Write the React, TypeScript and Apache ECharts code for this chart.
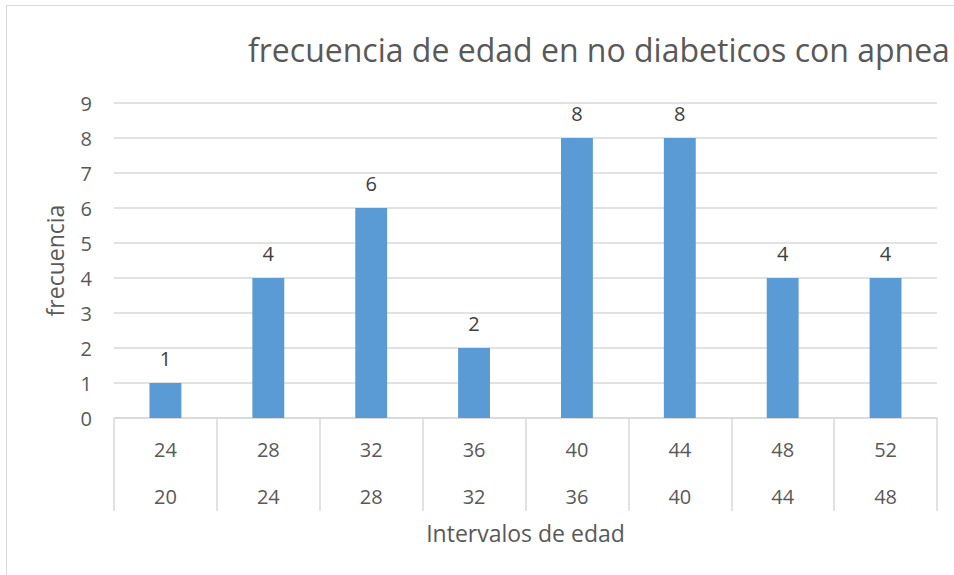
import React, { useEffect, useRef } from "react";
import * as echarts from "echarts";

const upperBounds = ["24", "28", "32", "36", "40", "44", "48", "52"];
const lowerBounds = ["20", "24", "28", "32", "36", "40", "44", "48"];
const frecuencias = [1, 4, 6, 2, 8, 8, 4, 4];
const yTicks = { min: 0, max: 9, interval: 1 };

const FONT = "'Open Sans', 'Noto Sans', sans-serif";
const TEXT = "#595959";
const GRID = "#d9d9d9";

export default function App() {
  const ref = useRef<HTMLDivElement>(null);
  useEffect(() => {
    if (!ref.current) return;
    const chart = echarts.init(ref.current, undefined, { renderer: "svg" });
    chart.setOption({
      animation: false,
      backgroundColor: "#ffffff",
      textStyle: { fontFamily: FONT },
      title: {
        text: "frecuencia de edad en no diabeticos con apnea",
        left: 243,
        top: 28,
        textStyle: { fontFamily: FONT, fontSize: 32, fontWeight: "normal", color: TEXT },
      },
      graphic: [
        {
          type: "rect",
          shape: { x: 6.5, y: 5.5, width: 1200, height: 800 },
          style: { fill: "none", stroke: GRID, lineWidth: 1 },
          silent: true,
        },
      ],
      grid: { left: 114, right: 17, top: 103, bottom: 157, containLabel: false },
      xAxis: [
        {
          type: "category",
          data: upperBounds,
          position: "bottom",
          axisLine: { show: true, lineStyle: { color: GRID, width: 1.5 } },
          axisTick: { show: true, length: 93, interval: 0, lineStyle: { color: GRID, width: 1.5 } },
          axisLabel: { color: TEXT, fontSize: 20, fontFamily: FONT, margin: 21, interval: 0 },
          splitLine: { show: false },
        },
        {
          type: "category",
          data: lowerBounds,
          position: "bottom",
          axisLine: { show: false },
          axisTick: { show: false },
          axisLabel: { color: TEXT, fontSize: 20, fontFamily: FONT, margin: 68, interval: 0 },
          splitLine: { show: false },
          name: "Intervalos de edad",
          nameLocation: "middle",
          nameGap: 103,
          nameTextStyle: { color: TEXT, fontSize: 23, fontFamily: FONT },
        },
      ],
      yAxis: {
        type: "value",
        min: yTicks.min,
        max: yTicks.max,
        interval: yTicks.interval,
        axisLine: { show: false },
        axisTick: { show: false },
        axisLabel: { color: TEXT, fontSize: 20, fontFamily: FONT, margin: 22 },
        splitLine: { show: true, lineStyle: { color: GRID, width: 1.5 } },
        name: "frecuencia",
        nameLocation: "middle",
        nameGap: 48,
        nameTextStyle: { color: TEXT, fontSize: 23, fontFamily: FONT },
      },
      series: [
        {
          type: "bar",
          xAxisIndex: 0,
          data: frecuencias,
          barWidth: "31%",
          itemStyle: { color: "#5b9bd5" },
          label: {
            show: true,
            position: "top",
            distance: 15,
            color: "#404040",
            fontSize: 20,
            fontFamily: FONT,
          },
        },
      ],
    });
    return () => chart.dispose();
  }, []);
  return (
    <div
      ref={ref}
      style={{ position: "fixed", left: 0, top: 0, width: 954, height: 575, overflow: "hidden" }}
    />
  );
}
